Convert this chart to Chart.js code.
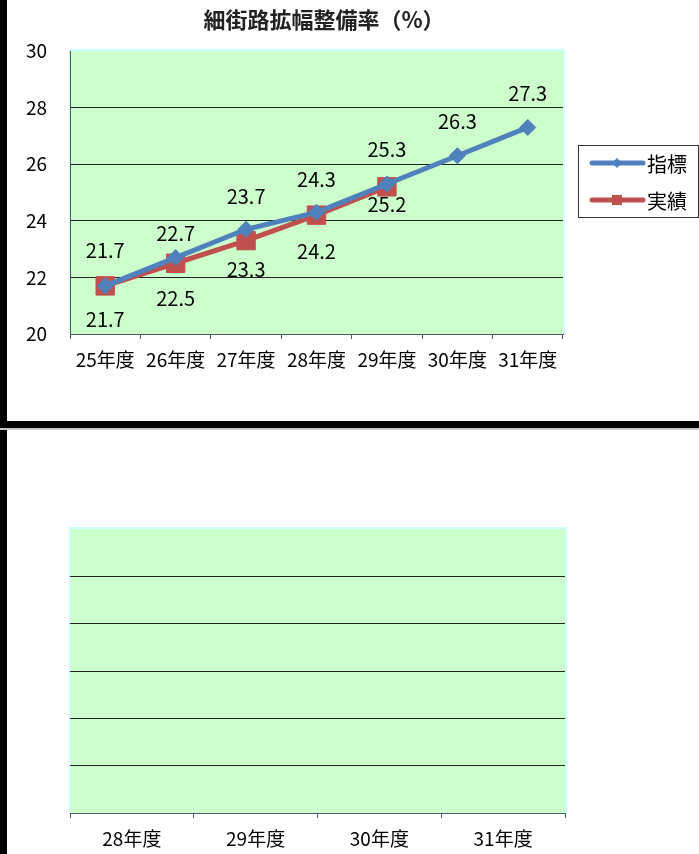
<!DOCTYPE html>
<html lang="ja">
<head>
<meta charset="utf-8">
<script src="https://cdn.jsdelivr.net/npm/chart.js@4.4.1/dist/chart.umd.min.js"></script>
<style>
  body { margin: 0; width: 699px; height: 854px; background: #fff; position: relative; overflow: hidden; }
  .bar-left { position: absolute; left: 0; top: 0; width: 7px; height: 854px; background: #000; }
  .bar-mid { position: absolute; left: 0; top: 421px; width: 699px; height: 7px; background: #000; border-bottom: 2px solid #c8c8c8; }
  #topChart { position: absolute; left: 0; top: 0; }
  #bottomChart { position: absolute; left: 0; top: 430px; }
</style>
</head>
<body>
<div class="bar-left"></div>
<div class="bar-mid"></div>
<canvas id="topChart" width="699" height="420"></canvas>
<canvas id="bottomChart" width="699" height="424"></canvas>
<script>
// data
const years = ["25年度", "26年度", "27年度", "28年度", "29年度", "30年度", "31年度"];
const targetValues = [21.7, 22.7, 23.7, 24.3, 25.3, 26.3, 27.3];   // 指標
const actualValues = [21.7, 22.5, 23.3, 24.2, 25.2, null, null];   // 実績
const yTicks = [20, 22, 24, 26, 28, 30];
const bottomYears = ["28年度", "29年度", "30年度", "31年度"];
const bottomTicks = [0, 1, 2, 3, 4, 5, 6];

// label placement (px from the point, like the original sheet)
const targetLabelDy = [-35, -24, -33, -33, -35, -34, -34];
const actualLabelDy = [34, 35, 29, 36, 18, 0, 0];

const FONT = '"Noto Sans CJK JP", "DejaVu Sans", sans-serif';
const AXIS = '#4a5a6a';

const plotBg = {
  id: 'plotBg',
  beforeDraw(chart) {
    const { ctx, chartArea: a } = chart;
    ctx.save();
    ctx.fillStyle = '#ccffff';
    ctx.fillRect(a.left - 1, a.top - 2, a.right - a.left + 3, a.bottom - a.top + 2);
    ctx.fillStyle = '#ccffcc';
    ctx.fillRect(a.left + 1, a.top, a.right - a.left - 1, a.bottom - a.top);
    ctx.restore();
  }
};

const valueLabels = {
  id: 'valueLabels',
  afterDatasetsDraw(chart) {
    const ctx = chart.ctx;
    ctx.save();
    ctx.font = '20px ' + FONT;
    ctx.fillStyle = '#000';
    ctx.textAlign = 'center';
    ctx.textBaseline = 'middle';
    chart.data.datasets.forEach(function (ds, i) {
      const meta = chart.getDatasetMeta(i);
      meta.data.forEach(function (pt, j) {
        const v = ds.data[j];
        if (v == null) return;
        ctx.fillText(v.toFixed(1), pt.x, pt.y + ds.labelDy[j]);
      });
    });
    ctx.restore();
  }
};

// title + boxed legend drawn by hand
const titleAndLegend = {
  id: 'titleAndLegend',
  afterDraw(chart) {
    const ctx = chart.ctx;
    ctx.save();
    ctx.font = 'bold 22px ' + FONT;
    ctx.fillStyle = '#222';
    ctx.textAlign = 'center';
    ctx.textBaseline = 'middle';
    ctx.fillText('細街路拡幅整備率（%）', 324, 20);

    ctx.strokeStyle = '#333';
    ctx.lineWidth = 1;
    ctx.strokeRect(578.5, 145.5, 120, 72);
    const rows = [163, 200];
    chart.data.datasets.forEach(function (ds, i) {
      const y = rows[i];
      ctx.strokeStyle = ds.borderColor;
      ctx.lineWidth = 5;
      ctx.lineCap = 'round';
      ctx.beginPath();
      ctx.moveTo(592, y);
      ctx.lineTo(643, y);
      ctx.stroke();
      ctx.fillStyle = ds.borderColor;
      ctx.beginPath();
      if (ds.pointStyle === 'rectRot') {
        ctx.moveTo(617, y - 5); ctx.lineTo(622, y); ctx.lineTo(617, y + 5); ctx.lineTo(612, y);
      } else {
        ctx.rect(612, y - 5, 10, 10);
      }
      ctx.fill();
      ctx.fillStyle = '#000';
      ctx.font = '20px ' + FONT;
      ctx.textAlign = 'left';
      ctx.fillText(ds.label, 647, y + 1);
    });
    ctx.restore();
  }
};

new Chart(document.getElementById('topChart'), {
  type: 'line',
  data: {
    labels: years,
    datasets: [
      {
        label: '指標',
        data: targetValues,
        labelDy: targetLabelDy,
        borderColor: '#4f81bd',
        backgroundColor: '#4f81bd',
        borderWidth: 5,
        pointStyle: 'rectRot',
        pointRadius: 8,
        pointHoverRadius: 8,
        pointBorderWidth: 1
      },
      {
        label: '実績',
        data: actualValues,
        labelDy: actualLabelDy,
        borderColor: '#c0504d',
        backgroundColor: '#c0504d',
        borderWidth: 5,
        pointStyle: 'rect',
        pointRadius: 13,
        pointHoverRadius: 13,
        pointBorderWidth: 1
      }
    ]
  },
  options: {
    responsive: false,
    animation: false,
    layout: { padding: { left: 0, top: 51, right: 136, bottom: 0 } },
    plugins: { legend: { display: false }, title: { display: false }, tooltip: { enabled: false } },
    scales: {
      x: {
        offset: true,
        grid: { offset: true, drawOnChartArea: false, drawTicks: true, tickLength: 5, color: AXIS },
        border: { display: true, color: AXIS },
        ticks: { color: '#000', font: { size: 19, family: FONT }, padding: 9, maxRotation: 0, autoSkip: false },
        afterFit: function (scale) { scale.height = 86; }
      },
      y: {
        min: 20,
        max: 30,
        afterBuildTicks: function (scale) { scale.ticks = yTicks.map(function (v) { return { value: v }; }); },
        grid: {
          drawTicks: false,
          color: function (c) { return (c.tick.value === 20 || c.tick.value === 30) ? 'rgba(0,0,0,0)' : '#222'; }
        },
        border: { display: true, color: AXIS },
        ticks: { color: '#000', font: { size: 19, family: FONT }, padding: 23 },
        afterFit: function (scale) { scale.width = 70; }
      }
    }
  },
  plugins: [plotBg, valueLabels, titleAndLegend]
});

// lower chart: empty frame, no series yet
new Chart(document.getElementById('bottomChart'), {
  type: 'line',
  data: { labels: bottomYears, datasets: [] },
  options: {
    responsive: false,
    animation: false,
    layout: { padding: { left: 0, top: 99, right: 134, bottom: 0 } },
    plugins: { legend: { display: false }, tooltip: { enabled: false } },
    scales: {
      x: {
        offset: true,
        grid: { offset: true, drawOnChartArea: false, drawTicks: true, tickLength: 5, color: AXIS },
        border: { display: true, color: AXIS },
        ticks: { color: '#000', font: { size: 19, family: FONT }, padding: 9, maxRotation: 0, autoSkip: false },
        afterFit: function (scale) { scale.height = 41; }
      },
      y: {
        min: 0,
        max: 6,
        afterBuildTicks: function (scale) { scale.ticks = bottomTicks.map(function (v) { return { value: v }; }); },
        grid: {
          drawTicks: false,
          color: function (c) { return (c.tick.value === 0 || c.tick.value === 6) ? 'rgba(0,0,0,0)' : '#222'; }
        },
        border: { display: false },
        ticks: { display: false },
        afterFit: function (scale) { scale.width = 70; }
      }
    }
  },
  plugins: [plotBg]
});
</script>
</body>
</html>
